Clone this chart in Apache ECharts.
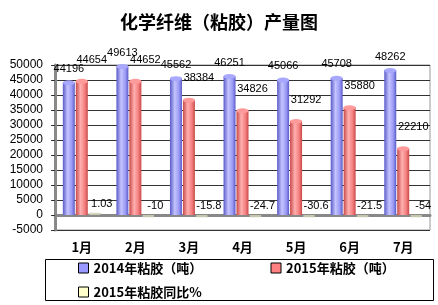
<!DOCTYPE html>
<html><head><meta charset="utf-8">
<script src="https://cdn.jsdelivr.net/npm/echarts@6/dist/echarts.min.js"></script>
<style>html,body{margin:0;padding:0;background:#fff}#c{width:438px;height:305px}</style>
</head><body><div id="c"></div>
<script>
const categories = ['1月','2月','3月','4月','5月','6月','7月'];
const prod2014 = [44196, 49613, 45562, 46251, 45066, 45708, 48262];
const prod2015 = [44654, 44652, 38384, 34826, 31292, 35880, 22210];
const yoy2015 = [1.03, -10, -15.8, -24.7, -30.6, -21.5, -54];
const seriesNames = ['2014年粘胶（吨）', '2015年粘胶（吨）', '2015年粘胶同比%'];
const yTicks = {min: -5000, max: 50000, interval: 5000};

function cyl(dark, light, mid) {
  return {type:'linear', x:0, y:0, x2:1, y2:0, colorStops:[
    {offset:0, color:dark},{offset:0.4, color:light},{offset:0.75, color:mid},{offset:1, color:dark}]};
}
function cap(name, data, dx, fill, stroke) {
  return {name: name + ' cap', type: 'pictorialBar', data: data, symbol: 'circle',
    symbolSize: [12, 5], symbolPosition: 'end', symbolOffset: [dx, '-50%'], z: 5,
    itemStyle: {color: fill, borderColor: stroke, borderWidth: 1}, silent: true, label: {show: false}};
}
const cjk = '"Noto Sans CJK SC", sans-serif';
const lat = '"Liberation Sans", Arial, sans-serif';
const chart = echarts.init(document.getElementById('c'));
chart.setOption({
  animation: false,
  backgroundColor: '#fff',
  title: {text: '化学纤维（粘胶）产量图', left: 'center', top: 8,
    textStyle: {fontFamily: cjk, fontSize: 18, fontWeight: 'bold', color: '#000'}},
  grid: {left: 55, right: 8, top: 65, bottom: 75, show: true, borderColor: '#999', borderWidth: 1},
  graphic: [{type: 'rect', shape: {x: 45.5, y: 259.5, width: 388, height: 41}, style: {fill: 'none', stroke: '#000', lineWidth: 1}}],
  legend: {
    left: 78, top: 261, width: 380, itemGap: 10, itemWidth: 10, itemHeight: 10, icon: 'rect',
    padding: 0,
    itemStyle: {borderColor: '#000', borderWidth: 1},
    textStyle: {fontFamily: cjk, fontSize: 13, fontWeight: 'bold', color: '#000', width: 167, lineHeight: 14},
    data: [
      {name: seriesNames[0], itemStyle: {color: '#9999FF'}},
      {name: seriesNames[1], itemStyle: {color: '#FF8080'}},
      {name: seriesNames[2], itemStyle: {color: '#FFFFCC'}}
    ]
  },
  xAxis: {type: 'category', data: categories,
    axisLine: {lineStyle: {color: '#888', width: 3}}, axisTick: {show: false},
    axisLabel: {fontFamily: cjk, fontSize: 13, fontWeight: 'bold', color: '#000', margin: 11}},
  yAxis: {type: 'value', min: yTicks.min, max: yTicks.max, interval: yTicks.interval,
    axisLine: {show: true, lineStyle: {color: '#888', width: 3}},
    axisTick: {show: true, length: 4, lineStyle: {color: '#333'}},
    splitLine: {lineStyle: {color: '#333', width: 1}},
    axisLabel: {fontFamily: lat, fontSize: 12, color: '#000', margin: 12, formatter: v => String(v)}},
  series: [
    {name: seriesNames[0], type: 'bar', data: prod2014, barWidth: 12, barGap: '8%',
      itemStyle: {color: cyl('#5a5ac8', '#c4c4ff', '#9a9af5')},
      label: {show: true, position: 'top', distance: 5, offset: [0, -3], fontFamily: lat, fontSize: 11, color: '#000'}},
    {name: seriesNames[1], type: 'bar', data: prod2015, barWidth: 12, barGap: '8%',
      itemStyle: {color: cyl('#c84848', '#ffb0b0', '#f47f7f')},
      label: {show: true, position: 'top', distance: 5, offset: [10, -11], fontFamily: lat, fontSize: 11, color: '#000'}},
    {name: seriesNames[2], type: 'bar', data: yoy2015, barWidth: 12, barGap: '8%', barMinHeight: 2,
      itemStyle: {color: '#FFFFCC', borderColor: '#999', borderWidth: 0.5},
      label: {show: true, position: 'top', distance: 4, offset: [7, 0], fontFamily: lat, fontSize: 11, color: '#000'}},
    cap(seriesNames[0], prod2014, -13, '#a8a8ff', '#4a4ab0'),
    cap(seriesNames[1], prod2015, 0, '#ff9a9a', '#a83a3a')
  ]
});
</script></body></html>
